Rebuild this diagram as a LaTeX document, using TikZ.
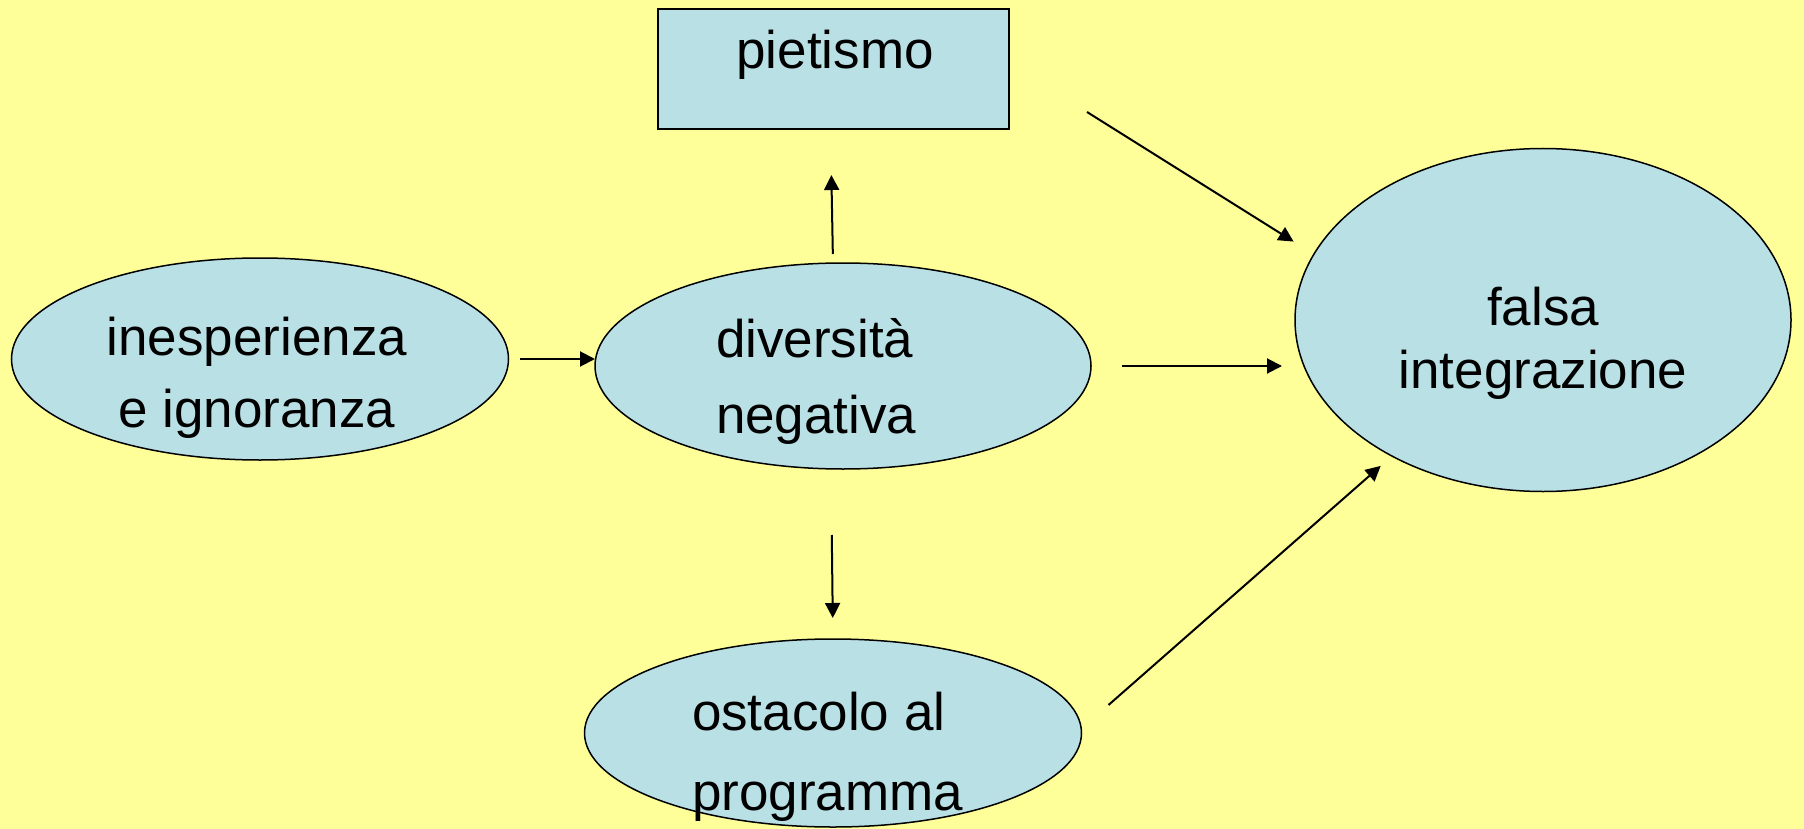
\documentclass[tikz,border=0pt]{standalone}
\usepackage{fontspec}
\setmainfont{Liberation Sans}
\usepackage{xcolor}
\usetikzlibrary{arrows.meta, shapes.geometric, calc}

\definecolor{slidebg}{HTML}{FFFF99}
\definecolor{bubblefill}{HTML}{B9E0E5}

\begin{document}
\begin{tikzpicture}[x=1pt, y=-1pt,
    bubble/.style={ellipse, draw=black, fill=bubblefill, line width=1.5pt, inner sep=0pt, outer sep=0pt},
    word/.style={inner sep=0pt, outer sep=0pt, font=\fontsize{53}{72}\selectfont},
    arr/.style={-{Triangle[length=15pt, width=15pt]}, line width=2pt}]

    \useasboundingbox (0, 0) rectangle (1804, 829);
    \fill[slidebg] (0, 0) rectangle (1804, 829);

    \node[bubble, minimum width=497, minimum height=202] (ines) at (260, 359) {};
    \node[bubble, minimum width=496, minimum height=206] (div) at (843, 366) {};
    \node[bubble, minimum width=496, minimum height=343] (fal) at (1543, 320) {};
    \node[bubble, minimum width=497, minimum height=188] (ost) at (833, 733) {};
    \node[draw=black, fill=bubblefill, line width=1.5pt, minimum width=351, minimum height=120,
        inner sep=0pt, outer sep=0pt] (pie) at (833.5, 69) {};

    \node[word, anchor=base] (pietxt) at (835, 69) {pietismo};
    \node[word, align=center, anchor=base] (inestxt) at (257, 427) {inesperienza\\e ignoranza};
    \node[word, align=left, anchor=base west] (divtxt) at (716, 433) {diversità\\[4pt]negativa};
    \node[word, align=center, anchor=base] (faltxt) at (1543, 388) {falsa\\[-9pt]integrazione};
    \node[word, align=left, anchor=base west] (osttxt) at (692, 810) {ostacolo al\\[8pt]programma};

    \coordinate (pieout) at ($(pie.east)+(78, 43)$);
    \coordinate (ostout) at ($(ost.east)+(27, -28)$);

    \draw[arr, shorten <=11.5pt] (ines.east) -- (ines.east -| div.west);
    \draw[arr, shorten <=9pt, shorten >=46pt] ([xshift=-10pt]div.north) -- ([xshift=-3pt]pie.south);
    \draw[arr, shorten <=66pt, shorten >=21pt] ([xshift=-12pt]div.south) -- (ost.north);
    \draw[arr, shorten <=31pt, shorten >=13pt] (div.east) -- (div.east -| fal.west);
    \draw[arr, shorten >=24pt] (pieout) -- (fal.164);
    \draw[arr, shorten >=15pt] (ostout) -- (fal.-138);

\end{tikzpicture}
\end{document}
